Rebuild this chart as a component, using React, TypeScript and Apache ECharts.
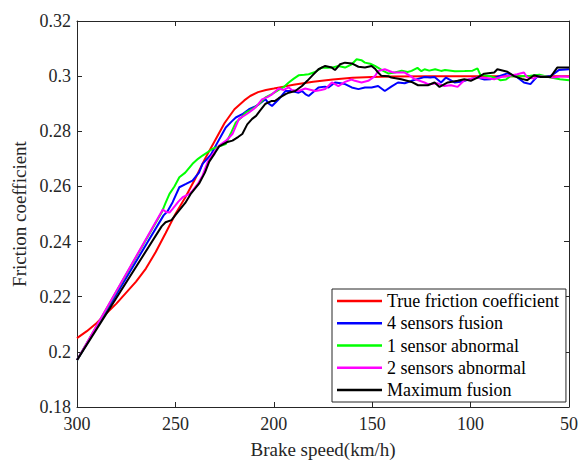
import React, { useEffect, useRef } from "react";
import * as echarts from "echarts";

const seriesNames = [
  "True friction coefficient",
  "4 sensors fusion",
  "1 sensor abnormal",
  "2 sensors abnormal",
  "Maximum fusion",
];

const speedTrue = [300, 295, 290, 285, 280, 275, 270, 265, 260, 255, 250, 245, 240, 235, 230, 225, 220, 215, 212, 208, 204, 200, 195, 190, 180, 170, 160, 150, 140, 120, 100, 80, 50];
const frictionTrue = [0.205, 0.2075, 0.2105, 0.214, 0.2175, 0.2215, 0.2255, 0.2302, 0.2362, 0.243, 0.25, 0.256, 0.2627, 0.27, 0.2765, 0.283, 0.288, 0.2912, 0.2928, 0.2942, 0.295, 0.2955, 0.2962, 0.2969, 0.298, 0.2988, 0.2994, 0.2997, 0.2999, 0.3, 0.3, 0.3, 0.3];

const speedFour = [300, 256, 254, 251.4, 248, 244.6, 241.3, 238, 236.2, 232, 229.5, 227, 224.4, 221.5, 219.3, 216, 212.6, 210, 207.6, 204.2, 202.5, 200.9, 197.5, 194.1, 190.8, 187.4, 185.7, 184, 182.3, 179.5, 177.3, 174, 172.2, 168.9, 166, 163.8, 160.4, 157, 153.7, 150.3, 147, 143.6, 140.3, 136.9, 133.5, 130, 126.7, 123.4, 120.5, 118.3, 115, 112.5, 108.2, 105, 103, 100, 96.5, 93, 89.8, 85.5, 81.3, 77, 72.9, 69.6, 66.2, 62.8, 59.4, 55.2, 50];
const frictionFour = [0.197, 0.2495, 0.251, 0.2543, 0.2597, 0.2609, 0.2621, 0.265, 0.2682, 0.2715, 0.2748, 0.278, 0.2814, 0.2835, 0.285, 0.2862, 0.288, 0.2888, 0.2898, 0.2916, 0.29, 0.2892, 0.2916, 0.2946, 0.2946, 0.294, 0.2946, 0.2935, 0.2928, 0.2945, 0.2959, 0.2962, 0.2959, 0.2977, 0.2974, 0.2971, 0.2959, 0.2953, 0.2959, 0.2959, 0.2964, 0.2946, 0.2962, 0.2977, 0.2974, 0.2983, 0.299, 0.2997, 0.2995, 0.2997, 0.2977, 0.2995, 0.2977, 0.298, 0.2983, 0.299, 0.2995, 0.2988, 0.2989, 0.3, 0.301, 0.3, 0.2977, 0.2971, 0.2998, 0.3, 0.3, 0.3022, 0.3025];

const speedOne = [300, 257, 255, 253, 250.5, 248, 245, 241.3, 238.5, 236.2, 233.5, 231.2, 228, 224.4, 222, 219.3, 216.5, 214.3, 211, 207.6, 204.2, 201, 197.5, 195, 192.4, 190, 187.4, 184.5, 182.3, 179, 175.6, 172.5, 170.5, 167.2, 163.8, 160.4, 157.9, 155.5, 153.7, 151, 148.6, 144.4, 141.9, 138.5, 135, 132, 130, 127, 125, 123.4, 121, 118, 115, 113, 108, 103, 99, 96.5, 95, 90, 86, 84.8, 82, 79.8, 75, 69.7, 65, 59.4, 54.6, 50];
const frictionOne = [0.197, 0.2505, 0.254, 0.2573, 0.26, 0.2633, 0.265, 0.2682, 0.27, 0.2712, 0.2725, 0.2736, 0.2745, 0.2754, 0.279, 0.2832, 0.285, 0.2868, 0.288, 0.2898, 0.2923, 0.2935, 0.295, 0.296, 0.2977, 0.299, 0.3003, 0.3005, 0.3007, 0.3015, 0.3031, 0.303, 0.3031, 0.3037, 0.3031, 0.3043, 0.3061, 0.3058, 0.3049, 0.3045, 0.3037, 0.3019, 0.301, 0.3013, 0.302, 0.3015, 0.3019, 0.303, 0.3018, 0.3025, 0.302, 0.3025, 0.3019, 0.3022, 0.3018, 0.3019, 0.302, 0.3028, 0.3004, 0.3, 0.299, 0.2985, 0.2988, 0.3, 0.3, 0.3001, 0.3005, 0.2995, 0.2989, 0.2985];

const speedTwo = [300, 256.4, 254.7, 253, 251.4, 248.5, 246.3, 243, 241.3, 238.5, 236.2, 233.5, 231.2, 227.8, 224.4, 221, 217.7, 214.3, 212.6, 209.3, 206, 203, 200.9, 197.5, 195, 192.4, 190.8, 187.4, 184, 181, 178.9, 176, 173.9, 170.5, 167.2, 163.8, 160.5, 158.8, 155.4, 152, 148.6, 147, 143.6, 140, 138.5, 133.5, 130.5, 128.4, 123.4, 121.7, 116.7, 113.4, 110, 106.6, 103.2, 100, 96.5, 92, 88, 84, 81.3, 76.3, 72.9, 71.2, 67.8, 66.2, 62, 57.8, 54, 50];
const frictionTwo = [0.197, 0.2516, 0.2507, 0.2505, 0.2519, 0.2545, 0.2561, 0.2572, 0.2585, 0.261, 0.264, 0.269, 0.2715, 0.2748, 0.2765, 0.279, 0.2845, 0.286, 0.2868, 0.2886, 0.2916, 0.2925, 0.2934, 0.2955, 0.295, 0.2959, 0.295, 0.2946, 0.2955, 0.295, 0.2946, 0.295, 0.2953, 0.2977, 0.2964, 0.2979, 0.2988, 0.2983, 0.2977, 0.2983, 0.3, 0.3019, 0.3025, 0.3015, 0.3013, 0.3013, 0.3, 0.2989, 0.2977, 0.2971, 0.2974, 0.2964, 0.2967, 0.2961, 0.2985, 0.299, 0.2995, 0.2993, 0.2989, 0.2998, 0.3, 0.3007, 0.3013, 0.2995, 0.2991, 0.3, 0.2998, 0.2995, 0.3, 0.2998];

const speedMax = [300, 257, 255, 252, 249, 245, 242, 238, 235, 232.8, 230, 227.8, 224, 221, 218, 216, 213.5, 211, 209, 207, 204.2, 201, 199.5, 197.5, 194, 192.4, 189.1, 185.7, 183, 180.7, 177.3, 173.9, 170.5, 168.9, 166.3, 163.8, 160.4, 157, 153.7, 150.3, 148.6, 147, 145.3, 141.9, 140.3, 135.2, 130, 126.7, 121.7, 118.3, 115.8, 111.6, 106.6, 103.2, 99.9, 96.5, 93.1, 88, 86.4, 81.3, 77.9, 74, 71.2, 67.8, 64.4, 59.4, 56, 50];
const frictionMax = [0.197, 0.2455, 0.247, 0.2478, 0.2505, 0.254, 0.2575, 0.261, 0.265, 0.269, 0.272, 0.2745, 0.276, 0.2766, 0.278, 0.279, 0.2825, 0.2845, 0.2856, 0.2875, 0.29, 0.291, 0.291, 0.292, 0.2935, 0.294, 0.2946, 0.2964, 0.2983, 0.3, 0.3025, 0.3037, 0.3031, 0.3022, 0.3043, 0.3049, 0.3046, 0.3034, 0.3031, 0.3037, 0.3027, 0.3013, 0.3001, 0.3, 0.2995, 0.2989, 0.2979, 0.2967, 0.2967, 0.2977, 0.2961, 0.2977, 0.2983, 0.2989, 0.2983, 0.2995, 0.3009, 0.3013, 0.3025, 0.3016, 0.3, 0.299, 0.2985, 0.3003, 0.2997, 0.2997, 0.3031, 0.3031];

const seriesColors = ["#ff0000", "#0000ff", "#00ff00", "#ff00ff", "#000000"];

const zip = (xs: number[], ys: number[]) => xs.map((x, i) => [x, ys[i]]);

const FONT = "Liberation Serif";
const AXIS_COLOR = "#262626";

export default function App() {
  const ref = useRef<HTMLDivElement>(null);
  useEffect(() => {
    if (!ref.current) return;
    const chart = echarts.init(ref.current, undefined, { renderer: "svg" });
    const dataSets = [
      zip(speedTrue, frictionTrue),
      zip(speedFour, frictionFour),
      zip(speedOne, frictionOne),
      zip(speedTwo, frictionTwo),
      zip(speedMax, frictionMax),
    ];
    const axisCommon = {
      axisLine: { show: true, onZero: false, lineStyle: { color: AXIS_COLOR, width: 1 } },
      axisTick: { show: true, inside: true, length: 5, lineStyle: { color: AXIS_COLOR, width: 1 } },
      splitLine: { show: false },
    };
    const labelStyle = { fontFamily: FONT, fontSize: 18, color: AXIS_COLOR };
    const nameStyle = { fontFamily: FONT, fontSize: 19, color: AXIS_COLOR };
    chart.setOption({
      animation: false,
      backgroundColor: "#ffffff",
      grid: { left: 77, right: 9, top: 21, bottom: 55, containLabel: false },
      xAxis: [
        {
          type: "value",
          position: "bottom",
          min: 50,
          max: 300,
          interval: 50,
          inverse: true,
          ...axisCommon,
          axisLabel: { ...labelStyle, margin: 8 },
          name: "Brake speed(km/h)",
          nameLocation: "middle",
          nameGap: 33,
          nameTextStyle: nameStyle,
        },
        {
          type: "value",
          position: "top",
          min: 50,
          max: 300,
          interval: 50,
          inverse: true,
          ...axisCommon,
          axisLabel: { show: false },
        },
      ],
      yAxis: [
        {
          type: "value",
          position: "left",
          min: 0.18,
          max: 0.32,
          interval: 0.02,
          ...axisCommon,
          axisLabel: {
            ...labelStyle,
            margin: 6,
            formatter: (v: number) => String(parseFloat(v.toFixed(2))),
          },
          name: "Friction coefficient",
          nameLocation: "middle",
          nameGap: 42,
          nameTextStyle: nameStyle,
        },
        {
          type: "value",
          position: "right",
          min: 0.18,
          max: 0.32,
          interval: 0.02,
          ...axisCommon,
          axisLabel: { show: false },
        },
      ],
      legend: {
        orient: "vertical",
        left: 332,
        top: 289,
        data: seriesNames,
        icon: "rect",
        itemWidth: 45,
        itemHeight: 2.5,
        itemGap: 2.25,
        padding: [2, 7, 2, 5],
        borderColor: AXIS_COLOR,
        borderWidth: 1,
        backgroundColor: "#ffffff",
        textStyle: { fontFamily: FONT, fontSize: 18, color: "#000000", lineHeight: 20 },
      },
      series: seriesNames.map((name, i) => ({
        name,
        type: "line",
        data: dataSets[i],
        symbol: "none",
        showSymbol: false,
        color: seriesColors[i],
        lineStyle: { color: seriesColors[i], width: 2 },
        xAxisIndex: 0,
        yAxisIndex: 0,
        z: 2 + i,
      })),
    });
    return () => chart.dispose();
  }, []);
  return (
    <div
      ref={ref}
      style={{ position: "fixed", left: 0, top: 0, width: 581, height: 464, background: "#fff" }}
    />
  );
}
